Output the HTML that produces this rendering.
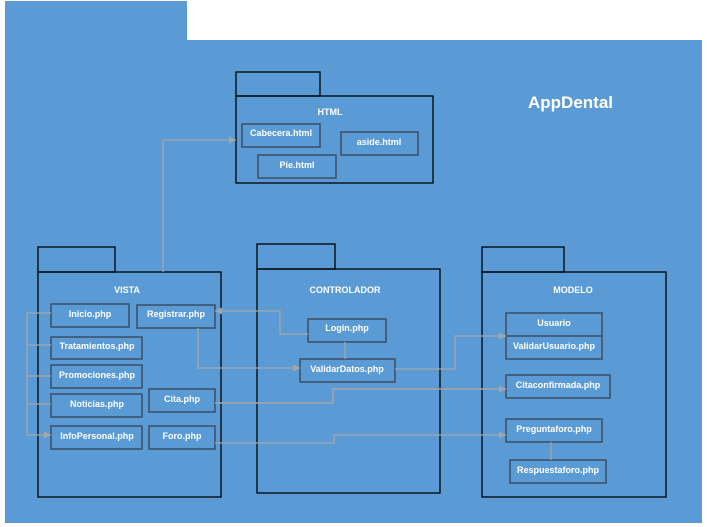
<!DOCTYPE html>
<html><head><style>html,body{margin:0;padding:0;background:#fff;width:707px;height:527px;overflow:hidden}</style></head>
<body>
<svg width="707" height="527" xmlns="http://www.w3.org/2000/svg" font-family="Liberation Sans, sans-serif">
<defs><marker id="a" markerWidth="8" markerHeight="8" refX="7" refY="3.5" orient="auto" markerUnits="userSpaceOnUse"><path d="M0,0 L7,3.5 L0,7z" fill="#a6a6a6"/></marker></defs>
<path d="M5,1 H187 V40 H702 V523 H5 Z" fill="#5b9bd5"/>
<text x="528" y="108" fill="#fff" font-size="17" font-weight="bold">AppDental</text>
<g fill="none" stroke="#000" stroke-width="1.3">
<rect x="236" y="72" width="84" height="24"/><rect x="236" y="96" width="197" height="87"/>
<rect x="38" y="247" width="77" height="25"/><rect x="38" y="272" width="183" height="225"/>
<rect x="257" y="244" width="78" height="25"/><rect x="257" y="269" width="183" height="224"/>
<rect x="482" y="247" width="82" height="25"/><rect x="482" y="272" width="184" height="225"/>
</g>
<g fill="none" stroke="#3d4d63" stroke-width="1.5">
<rect x="242" y="124" width="78" height="23"/><rect x="341" y="132" width="77" height="23"/><rect x="258" y="155" width="78" height="23"/>
<rect x="51" y="304" width="78" height="23"/><rect x="137" y="305" width="78" height="23"/>
<rect x="51" y="337" width="91" height="22"/><rect x="51" y="365" width="91" height="23"/>
<rect x="51" y="394" width="91" height="23"/><rect x="149" y="389" width="66" height="23"/>
<rect x="51" y="426" width="91" height="23"/><rect x="149" y="426" width="66" height="23"/>
<rect x="308" y="319" width="78" height="23"/><rect x="300" y="359" width="95" height="23"/>
<rect x="506" y="313" width="96" height="46"/><line x1="506" y1="336" x2="602" y2="336"/>
<rect x="506" y="375" width="104" height="23"/><rect x="506" y="419" width="96" height="23"/><rect x="510" y="460" width="96" height="23"/>
</g>
<g fill="none" stroke="#a6a6a6" stroke-width="1.3">
<path d="M163,272 V140 H236" marker-end="url(#a)"/>
<path d="M51,313 H27 V435 H51" marker-end="url(#a)"/>
<path d="M27,345 H51 M27,376 H51 M27,404 H51"/>
<path d="M308,334 H280 V311 H215" marker-end="url(#a)"/>
<path d="M198,328 V368 H300" marker-end="url(#a)"/>
<path d="M345,342 V359"/>
<path d="M395,369 H455 V336 H506" marker-end="url(#a)"/>
<path d="M215,403 H333 V389 H506" marker-end="url(#a)" stroke-width="1.6"/>
<path d="M215,443 H334 V435 H506" marker-end="url(#a)"/>
<path d="M551,442 V460"/>
</g>
<g fill="#fff" font-size="9" font-weight="bold" text-anchor="middle">
<text x="330" y="115">HTML</text>
<text x="281" y="136">Cabecera.html</text><text x="379" y="145">aside.html</text><text x="297" y="168">Pie.html</text>
<text x="127" y="293">VISTA</text>
<text x="90" y="317">Inicio.php</text><text x="176" y="317">Registrar.php</text>
<text x="97" y="349">Tratamientos.php</text><text x="97" y="378">Promociones.php</text>
<text x="97" y="407">Noticias.php</text><text x="182" y="402">Cita.php</text>
<text x="97" y="439">InfoPersonal.php</text><text x="182" y="439">Foro.php</text>
<text x="345" y="293">CONTROLADOR</text>
<text x="347" y="331">Login.php</text><text x="347" y="372">ValidarDatos.php</text>
<text x="573" y="293">MODELO</text>
<text x="554" y="326">Usuario</text><text x="554" y="349">ValidarUsuario.php</text>
<text x="558" y="388">Citaconfirmada.php</text><text x="554" y="432">Preguntaforo.php</text><text x="558" y="473">Respuestaforo.php</text>
</g>
</svg>
</body></html>
